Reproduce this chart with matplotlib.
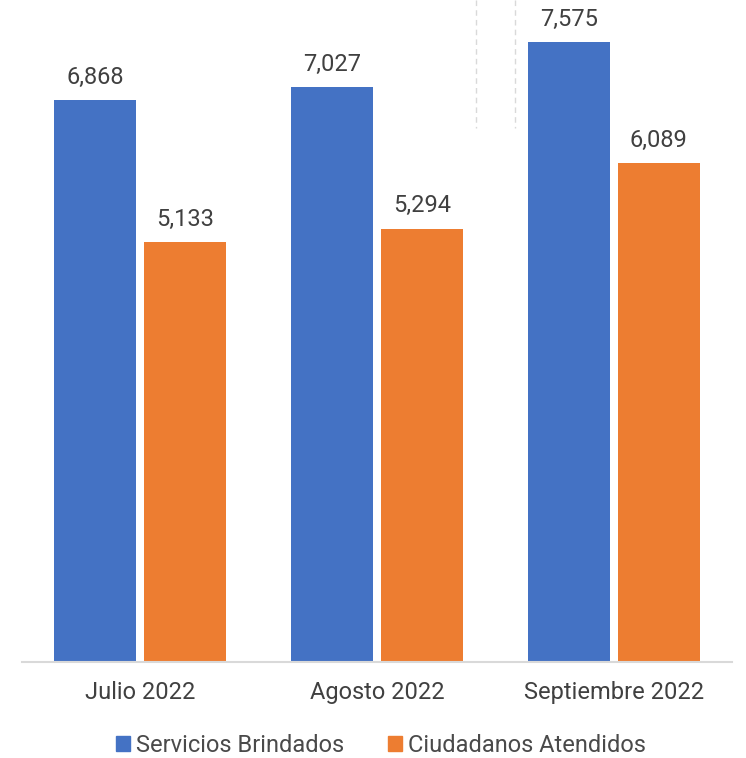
import matplotlib
matplotlib.use("Agg")
import matplotlib.pyplot as plt
from matplotlib.patches import Patch
from matplotlib.lines import Line2D
import numpy as np

plt.rcParams['font.family'] = ['Roboto', 'DejaVu Sans']

categories = ["Julio 2022", "Agosto 2022", "Septiembre 2022"]
servicios = [6868, 7027, 7575]
ciudadanos = [5133, 5294, 6089]
series_names = ["Servicios Brindados", "Ciudadanos Atendidos"]
colors = ["#4472C4", "#ED7D31"]

W, H = 746, 758
fig = plt.figure(figsize=(W / 100, H / 100), dpi=100)
ax = fig.add_axes([22 / W, (H - 662) / H, (732 - 22) / W, (662 - 7) / H])

x = np.arange(len(categories))
bw = 82 / 237
off = 45 / 237
text_color = "#404040"

for vals, dx, c in [(servicios, -off, colors[0]), (ciudadanos, off, colors[1])]:
    bars = ax.bar(x + dx, vals, width=bw, color=c, zorder=2)
    for b, v in zip(bars, vals):
        ax.annotate(f"{v:,}", (b.get_x() + b.get_width() / 2, v),
                    xytext=(0, 8), textcoords="offset points",
                    ha="center", va="bottom", fontsize=17, color=text_color)

ax.set_xlim(-0.5, len(categories) - 0.5)
ax.set_ylim(0, 8000)
ax.set_xticks(x)
ax.set_xticklabels(categories, fontsize=17, color=text_color)
ax.tick_params(axis="x", length=0, pad=14)
ax.set_yticks([])
for s in ["left", "right", "top"]:
    ax.spines[s].set_visible(False)
ax.spines["bottom"].set_color("#D9D9D9")
ax.spines["bottom"].set_linewidth(1.5)

# decorative dashed lines at the top
for xp in [476, 515]:
    fig.add_artist(Line2D([xp / W, xp / W], [1, (H - 128) / H], transform=fig.transFigure,
                          color="#D9D9D9", lw=1, ls=(0, (4, 3))))

handles = [Patch(color=colors[0]), Patch(color=colors[1])]
fig.legend(handles, series_names, loc="center", bbox_to_anchor=(0.511, (H - 745) / H),
           ncol=2, frameon=False, fontsize=17, handlelength=0.6, handleheight=0.6,
           handletextpad=0.25, columnspacing=1.85, labelcolor="#4a4a4a")

fig.savefig("out.png", dpi=100)
